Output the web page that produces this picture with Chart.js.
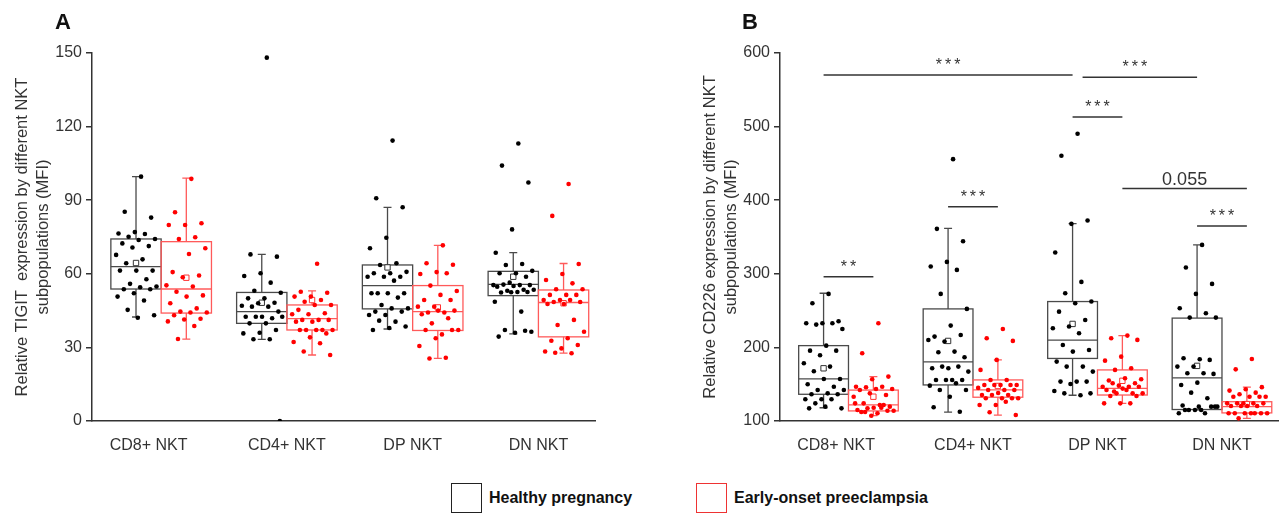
<!DOCTYPE html>
<html>
<head>
<meta charset="utf-8">
<script src="https://cdn.jsdelivr.net/npm/chart.js@4.4.1/dist/chart.umd.min.js"></script>
<style>
  body { margin: 0; background: #fff; width: 1283px; height: 514px; position: relative; overflow: hidden;
         font-family: "Liberation Sans", Arial, sans-serif; }
  .wrap { position: absolute; top: 0; }
  .letter { position: absolute; top: 9px; font-size: 22px; font-weight: bold; color: #111; }
  .box { position: absolute; top: 483px; width: 29px; height: 28px; border: 1.5px solid #222; }
  .lab { position: absolute; top: 489px; font-size: 16px; font-weight: bold; color: #111; }
</style>
</head>
<body>
<div class="wrap" style="left:0"><canvas id="chartA" width="600" height="460"></canvas></div>
<div class="wrap" style="left:688px"><canvas id="chartB" width="595" height="460"></canvas></div>
<div class="letter" style="left:55px">A</div>
<div class="letter" style="left:742px">B</div>
<div class="box" style="left:451px"></div>
<div class="lab" style="left:489px">Healthy pregnancy</div>
<div class="box" style="left:696px; border-color:#ee3333"></div>
<div class="lab" style="left:734px">Early-onset preeclampsia</div>

<script>
/* data */
const categories = ["CD8+ NKT", "CD4+ NKT", "DP NKT", "DN NKT"];
const tigitTicks = [0, 30, 60, 90, 120, 150];
const cd226Ticks = [100, 200, 300, 400, 500, 600];

// TIGIT (MFI), one list per subpopulation
const tigitHealthy = [
  [99.6, 85.3, 82.9, 77.0, 76.4, 76.2, 75.1, 74.2, 73.8, 72.4, 71.3, 70.7, 67.7, 65.9, 64.3, 61.3, 61.3, 61.3, 57.8, 55.9, 54.8, 54.5, 53.7, 53.7, 52.1, 50.7, 49.1, 45.3, 43.1, 42.1],
  [148.1, 67.9, 67.0, 60.2, 59.1, 56.4, 53.1, 52.3, 50.0, 50.0, 48.2, 48.0, 47.0, 46.6, 46.6, 44.6, 42.5, 42.5, 41.9, 42.5, 42.5, 39.8, 39.8, 37.1, 36.0, 35.7, 33.3, 33.3, 0],
  [114.3, 90.8, 87.1, 74.7, 70.4, 64.3, 63.6, 60.8, 60.2, 60.2, 58.8, 58.8, 58.8, 57.2, 52.1, 52.1, 52.1, 52.1, 50.3, 47.3, 45.9, 45.9, 44.6, 44.6, 43.2, 43.2, 40.5, 40.9, 38.5, 37.9, 37.1],
  [113.1, 104.1, 97.2, 78.1, 68.6, 64.0, 63.6, 61.2, 60.2, 60.2, 58.8, 56.4, 55.4, 55.4, 55.6, 55.4, 55.0, 54.7, 53.5, 53.1, 53.5, 52.6, 52.4, 52.6, 52.5, 48.6, 44.6, 37.1, 36.4, 36.0, 34.4, 36.8]
];
const tigitPre = [
  [98.7, 85.1, 80.6, 79.9, 79.9, 74.9, 74.2, 70.4, 68.1, 60.7, 59.3, 58.6, 55.3, 54.8, 52.7, 51.2, 50.7, 48.0, 45.9, 44.6, 44.2, 44.2, 43.1, 41.7, 41.4, 40.6, 38.7, 33.4],
  [64.1, 52.7, 52.3, 50.7, 50.7, 49.3, 48.6, 47.3, 47.3, 45.3, 43.9, 43.5, 43.5, 41.2, 41.2, 41.2, 40.5, 40.5, 37.1, 37.1, 37.1, 37.1, 37.1, 35.7, 34.1, 32.2, 31.7, 28.3, 26.9],
  [71.6, 64.3, 63.7, 60.7, 59.9, 60.2, 55.2, 53.0, 51.4, 49.3, 49.3, 46.6, 46.6, 44.2, 44.2, 45.0, 45.0, 43.5, 41.9, 39.8, 37.1, 35.3, 37.1, 37.1, 33.7, 30.6, 25.8, 25.5],
  [96.6, 83.6, 64.0, 59.9, 57.5, 56.1, 53.7, 53.7, 51.4, 51.4, 51.4, 49.3, 49.3, 49.3, 48.5, 48.5, 47.7, 47.7, 41.2, 39.1, 36.4, 33.7, 32.7, 31.0, 29.6, 28.3, 27.6, 27.8]
];
// box stats: [lower whisker, q1, median, q3, upper whisker, mean]
const tigitHealthyBox = [[42.4, 53.8, 62.9, 74.2, 99.6, 64.4], [33.3, 39.8, 44.6, 52.4, 67.9, 48.2], [37.5, 45.7, 55.2, 63.6, 87.1, 62.6], [35.5, 51.1, 55.7, 61.0, 68.6, 58.8]];
const tigitPreBox = [[33.4, 44.0, 53.8, 73.1, 99.0, 58.4], [26.9, 37.1, 41.7, 47.3, 53.0, 49.3], [25.5, 36.9, 44.6, 55.2, 71.6, 46.3], [27.7, 34.3, 48.3, 53.4, 64.2, 48.0]];

// CD226 (MFI)
const cd226Healthy = [
  [272.7, 260.0, 235.5, 232.8, 232.8, 232.8, 231.0, 225.1, 202.4, 195.6, 195.6, 189.3, 178.4, 173.9, 167.5, 157.1, 157.1, 149.9, 146.6, 142.2, 142.2, 137.6, 136.3, 136.3, 129.5, 129.5, 129.5, 124.0, 117.2, 119.5, 117.2],
  [455.8, 361.1, 344.3, 316.2, 309.9, 305.3, 272.7, 252.3, 229.6, 214.7, 216.9, 207.9, 210.1, 194.3, 193.4, 186.6, 171.6, 171.6, 173.9, 173.9, 167.1, 155.8, 155.8, 155.8, 155.8, 148.0, 151.3, 142.2, 142.2, 133.0, 118.6, 112.6],
  [490.3, 460.4, 372.4, 367.9, 328.9, 289.0, 273.6, 262.3, 260.0, 248.6, 237.3, 228.3, 226.0, 219.3, 203.3, 196.5, 194.3, 180.7, 173.9, 173.9, 167.1, 153.5, 153.5, 153.5, 150.3, 140.8, 134.9, 137.6, 137.6],
  [339.3, 308.5, 286.3, 272.7, 253.2, 246.4, 240.5, 240.5, 183.9, 185.3, 183.0, 173.9, 173.9, 164.8, 164.8, 164.0, 152.1, 149.0, 130.9, 138.5, 119.5, 115.0, 115.0, 119.5, 115.0, 110.5, 110.5, 115.0, 119.5, 119.5, 121.0]
];
const cd226Pre = [
  [232.8, 192.0, 160.3, 156.7, 146.6, 146.6, 145.8, 143.5, 143.5, 142.2, 135.4, 137.6, 133.0, 121.8, 124.0, 119.5, 118.1, 115.0, 121.8, 117.2, 114.0, 110.5, 112.2, 114.0, 107.2, 124.0, 118.1, 112.2],
  [225.1, 212.5, 208.8, 183.0, 169.4, 155.8, 155.8, 149.0, 149.0, 149.0, 149.0, 149.0, 145.0, 142.2, 142.2, 142.2, 138.0, 135.4, 135.4, 135.4, 131.0, 131.0, 131.0, 130.9, 121.8, 121.8, 126.2, 111.8, 108.2],
  [216.0, 212.5, 210.2, 187.4, 182.0, 171.6, 169.4, 156.7, 158.0, 155.0, 151.3, 148.0, 146.6, 146.6, 151.3, 146.6, 144.0, 142.2, 137.6, 137.6, 137.6, 142.2, 134.0, 134.0, 124.0, 124.0, 124.0, 140.0],
  [184.3, 170.2, 146.0, 143.1, 141.3, 138.5, 136.3, 133.0, 133.0, 133.0, 133.0, 124.0, 124.0, 124.0, 124.0, 124.0, 120.4, 120.4, 120.4, 120.4, 110.5, 110.5, 110.5, 110.5, 110.5, 110.5, 110.5, 103.6]
];
const cd226HealthyBox = [[118, 136.3, 157.1, 202.4, 273.6, 171.6], [112, 149, 180.2, 252.3, 361.6, 208.8], [135, 185, 210, 262.3, 368.3, 231.9], [115, 115.6, 158.7, 239.8, 339.3, 174.9]];
const cd226PreBox = [[107.2, 113.7, 121.8, 142, 160.3, 133], [108, 132.3, 142.2, 155.8, 183, 147.6], [124, 135.3, 144.4, 169.4, 216, 154.6], [103.6, 111, 119.5, 126.2, 146.1, 123]];

// significance: [from group, to group, level (MFI), label]; group = category*2 + (0 healthy | 1 preeclampsia)
const cd226Sig = [
  [0, 1, 296, "**"],
  [2, 3, 391, "***"],
  [0, 4, 570, "***"],
  [4, 6, 567, "***"],
  [4, 5, 513, "***"],
  [5, 7, 416, "0.055"],
  [6, 7, 365, "***"]
];

Chart.defaults.font.family = '"Liberation Sans", Arial, sans-serif';
Chart.defaults.color = "#333";

const HALF = 0.2; // half box width, in category units
function jitter(k) {
  return (((k + 1) * 0.6180339887) % 1 - 0.5) * 0.34;
}
function groupX(g) {
  return Math.floor(g / 2) + 1 + (g % 2 ? HALF : -HALF);
}

function pointsOf(lists, side) {
  const out = [];
  lists.forEach((vals, c) => {
    vals.forEach((v, k) => out.push({ x: c + 1 + side * HALF + jitter(k), y: v }));
  });
  return out;
}

function makeBoxPlugin(groups) {
  return {
    id: "boxes",
    beforeDatasetsDraw(chart) {
      const ctx = chart.ctx;
      const x = chart.scales.x, y = chart.scales.y;
      const w = x.getPixelForValue(HALF) - x.getPixelForValue(0);
      ctx.save();
      ctx.lineWidth = 1.3;
      groups.forEach((g) => {
        ctx.strokeStyle = g.color;
        g.stats.forEach((s, c) => {
          const cx = x.getPixelForValue(c + 1 + g.side * HALF);
          const lo = y.getPixelForValue(s[0]), q1 = y.getPixelForValue(s[1]);
          const md = y.getPixelForValue(s[2]), q3 = y.getPixelForValue(s[3]);
          const hi = y.getPixelForValue(s[4]);
          ctx.beginPath();
          ctx.moveTo(cx, q3); ctx.lineTo(cx, hi);
          ctx.moveTo(cx - 4, hi); ctx.lineTo(cx + 4, hi);
          ctx.moveTo(cx, q1); ctx.lineTo(cx, lo);
          ctx.moveTo(cx - 4, lo); ctx.lineTo(cx + 4, lo);
          ctx.stroke();
          ctx.strokeRect(cx - w, q3, 2 * w, q1 - q3);
          ctx.beginPath();
          ctx.moveTo(cx - w, md); ctx.lineTo(cx + w, md);
          ctx.stroke();
        });
      });
      ctx.restore();
    }
  };
}

function makeSigPlugin(sig) {
  return {
    id: "sig",
    afterDatasetsDraw(chart) {
      const ctx = chart.ctx;
      const x = chart.scales.x, y = chart.scales.y;
      ctx.save();
      ctx.strokeStyle = "#333";
      ctx.fillStyle = "#333";
      ctx.lineWidth = 1.5;
      ctx.textAlign = "center";
      sig.forEach(([a, b, lvl, label]) => {
        const x1 = x.getPixelForValue(groupX(a)), x2 = x.getPixelForValue(groupX(b));
        const py = y.getPixelForValue(lvl);
        ctx.beginPath();
        ctx.moveTo(x1 + (a === 4 && b === 6 ? 10 : 0), py);
        ctx.lineTo(x2, py);
        ctx.stroke();
        if (label === "0.055") {
          ctx.font = '18px "Liberation Sans", Arial, sans-serif';
          ctx.letterSpacing = "0px";
          ctx.fillText(label, (x1 + x2) / 2, py - 3);
        } else {
          ctx.font = '16px "Liberation Sans", Arial, sans-serif';
          ctx.letterSpacing = "3px";
          ctx.fillText(label, (x1 + x2) / 2 + 1.5, py - 5);
        }
      });
      ctx.restore();
    }
  };
}

function makePanel(id, healthy, pre, healthyBox, preBox, ticks, yTitle, sig) {
  const plugins = [makeBoxPlugin([
    { stats: healthyBox, side: -1, color: "#4a4a4a" },
    { stats: preBox, side: 1, color: "#ff5a5a" }
  ])];
  if (sig) plugins.push(makeSigPlugin(sig));

  new Chart(document.getElementById(id), {
    type: "scatter",
    data: {
      datasets: [
        {
          label: "Healthy pregnancy",
          data: pointsOf(healthy, -1),
          pointRadius: 2.3,
          pointBackgroundColor: "#000",
          pointBorderWidth: 0,
        },
        {
          label: "Early-onset preeclampsia",
          data: pointsOf(pre, 1),
          pointRadius: 2.3,
          pointBackgroundColor: "#ff0000",
          pointBorderWidth: 0,
        },
        {
          label: "mean healthy",
          data: healthyBox.map((s, c) => ({ x: c + 1 - HALF, y: s[5] })),
          pointStyle: "rect",
          pointRadius: 3.8,
          pointBackgroundColor: "#fff",
          pointBorderColor: "#333",
          pointBorderWidth: 1,
        },
        {
          label: "mean preeclampsia",
          data: preBox.map((s, c) => ({ x: c + 1 + HALF, y: s[5] })),
          pointStyle: "rect",
          pointRadius: 3.8,
          pointBackgroundColor: "#fff",
          pointBorderColor: "#ff3333",
          pointBorderWidth: 1,
        },
      ],
    },
    options: {
      responsive: false,
      animation: false,
      layout: { padding: { top: 53, right: 5, left: 0, bottom: 0 } },
      plugins: { legend: { display: false }, tooltip: { enabled: false } },
      scales: {
        x: {
          type: "linear",
          min: 0.45,
          max: 4.45,
          // first label sits a little left of its boxes, as in the original figure
          afterBuildTicks(s) {
            s.ticks = categories.map((_, i) => ({ value: i + 1 - (i === 0 ? 0.1 : 0) }));
          },
          ticks: {
            callback: (v, i) => categories[i],
            font: { size: 16 },
            color: "#333",
            padding: 7,
            autoSkip: false,
            maxRotation: 0,
          },
          grid: { display: false },
          border: { display: true, color: "#333", width: 1.5 },
          afterFit(s) { s.height = 39; },
        },
        y: {
          min: ticks[0],
          max: ticks[ticks.length - 1],
          afterBuildTicks(s) {
            s.ticks = ticks.map((v) => ({ value: v }));
          },
          ticks: { font: { size: 16 }, color: "#333", padding: 4 },
          grid: { display: true, drawOnChartArea: false, drawTicks: true, tickLength: 6, color: "#333", lineWidth: 1.5 },
          border: { display: true, color: "#333", width: 1.5 },
          title: {
            display: true,
            text: yTitle,
            color: "#333",
            font: { size: 16.5, lineHeight: 1.33 },
            padding: { top: 11, bottom: 0 },
          },
          afterFit(s) { s.width = 92; },
        },
      },
    },
    plugins: plugins,
  });
}

makePanel("chartA", tigitHealthy, tigitPre, tigitHealthyBox, tigitPreBox, tigitTicks,
  ["Relative TIGIT  expression by different NKT", "subpopulations (MFI)"], null);
makePanel("chartB", cd226Healthy, cd226Pre, cd226HealthyBox, cd226PreBox, cd226Ticks,
  ["Relative CD226 expression by different NKT", "subpopulations (MFI)"], cd226Sig);
</script>
</body>
</html>
